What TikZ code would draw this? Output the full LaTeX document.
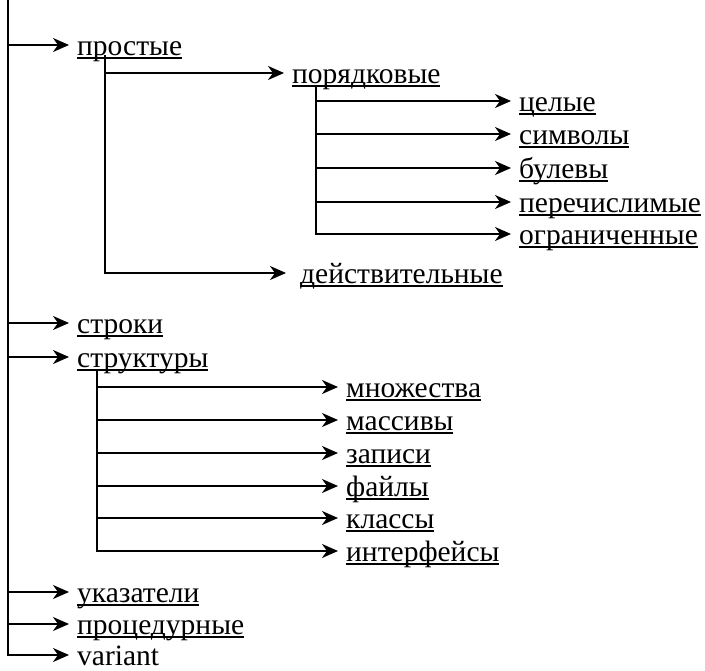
\documentclass[tikz,border=0pt]{standalone}
\usepackage{fontspec}
\setmainfont{Liberation Serif}
\usetikzlibrary{arrows.meta}

\newcommand\ulword[1]{\setbox0\hbox{#1}\rlap{\rule[-3.5pt]{\wd0}{1.8pt}}\box0}

\tikzset{
  lbl/.style={inner sep=0pt, anchor=west, text height=21pt, text depth=0pt,
    font=\fontsize{29.5}{34}\selectfont},
  arr/.style={line width=1.8pt, -{Stealth[length=16pt,width=14pt,inset=5pt]},
    shorten >=8pt}
}

\begin{document}
\begin{tikzpicture}[x=1pt,y=-1pt]
\useasboundingbox (0,0) rectangle (705,671);

% top level
\coordinate (root) at (8,0);
\node[lbl] (prost) at (77,45) {\ulword{простые}};
\node[lbl] (stroki) at (77,323) {\ulword{строки}};
\node[lbl] (struct) at (77,357) {\ulword{структуры}};
\node[lbl] (ukaz) at (77,592) {\ulword{указатели}};
\node[lbl] (proc) at (77,624) {\ulword{процедурные}};
\node[lbl] (variant) at (77,655) {variant};

% simple types
\coordinate (b1) at (105,55);
\node[lbl] (poryad) at (292,73) {\ulword{порядковые}};
\node[lbl] (deistv) at (300,273) {\ulword{действительные}};

% ordinal types
\coordinate (b2) at (316,85);
\node[lbl] (cel) at (519,101) {\ulword{целые}};
\node[lbl] (simv) at (519,134) {\ulword{символы}};
\node[lbl] (bul) at (519,168) {\ulword{булевы}};
\node[lbl] (perech) at (519,202) {\ulword{перечислимые}};
\node[lbl] (ogr) at (519,234) {\ulword{ограниченные}};

% structured types
\coordinate (b3) at (97,370);
\node[lbl] (mnozh) at (346,387) {\ulword{множества}};
\node[lbl] (mass) at (346,420) {\ulword{массивы}};
\node[lbl] (zap) at (346,453) {\ulword{записи}};
\node[lbl] (fail) at (346,486) {\ulword{файлы}};
\node[lbl] (klass) at (346,518) {\ulword{классы}};
\node[lbl] (intf) at (346,551) {\ulword{интерфейсы}};

% connectors
\draw[arr] (root) |- (variant.west);
\foreach \n in {prost,stroki,struct,ukaz,proc}
  \draw[arr] (root |- \n.west) -- (\n.west);

\draw[arr, shorten >=14pt] (b1) |- (deistv.west);
\draw[arr] (b1 |- poryad.west) -- (poryad.west);

\draw[arr] (b2) |- (ogr.west);
\foreach \n in {cel,simv,bul,perech}
  \draw[arr] (b2 |- \n.west) -- (\n.west);

\draw[arr] (b3) |- (intf.west);
\foreach \n in {mnozh,mass,zap,fail,klass}
  \draw[arr] (b3 |- \n.west) -- (\n.west);
\end{tikzpicture}
\end{document}
